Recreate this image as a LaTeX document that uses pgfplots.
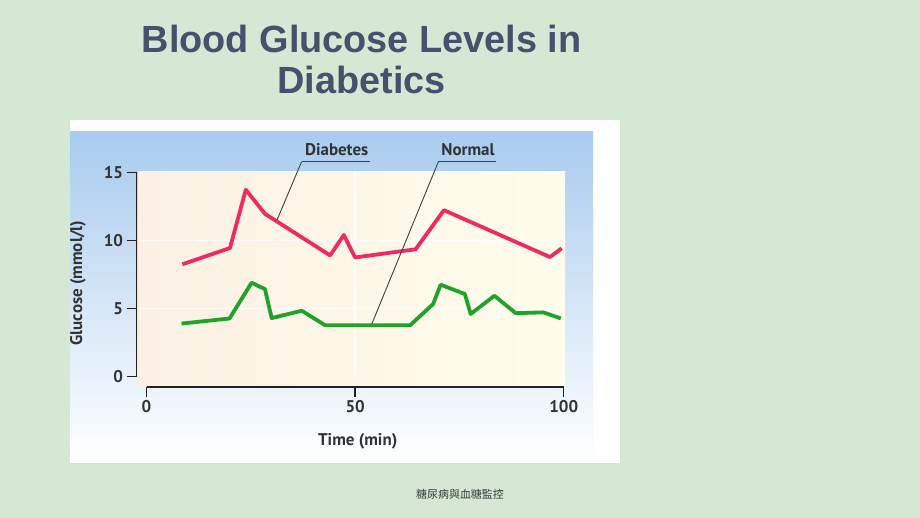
\documentclass[border=0pt]{standalone}
\usepackage{fontspec}
\setmainfont{Liberation Sans}
\newfontfamily\chartfont{PT Sans}
\newfontfamily\cjk{Noto Sans CJK TC}
\usepackage{pgfplots}
\pgfplotsset{compat=1.18}
\definecolor{slidebg}{HTML}{D5E8D4}
\definecolor{imgblue}{HTML}{A8CBEE}
\definecolor{creamL}{HTML}{FBF0E3}
\definecolor{creamR}{HTML}{FFFDEB}
\definecolor{diab}{HTML}{EF2C62}
\definecolor{norm}{HTML}{1FA32A}
\definecolor{axiscol}{HTML}{222222}
\definecolor{labelcol}{HTML}{333333}
\definecolor{titlecol}{HTML}{45526E}
\definecolor{footcol}{HTML}{3A3A3A}
\newcommand\cf{\chartfont\bfseries\fontsize{17}{17}\selectfont}
\begin{document}
\begin{tikzpicture}[x=1bp,y=1bp]
\fill[slidebg] (0,0) rectangle (920,518);
% chart picture frame
\fill[white] (70,55) rectangle (620,398);
\shade[top color=imgblue, bottom color=white] (70,55) rectangle (593,386);
\shade[left color=creamL, right color=creamR] (138,131) rectangle (565,346);
% title
\node[anchor=base, font=\bfseries\fontsize{38}{38}\selectfont, text=titlecol] at (361.7,465.7) {Blood Glucose Levels in};
\node[anchor=base, font=\bfseries\fontsize{38}{38}\selectfont, text=titlecol] at (361.7,424.7) {Diabetics};
% footer
\node[font=\cjk\fontsize{11}{11}\selectfont, text=footcol] at (460,24) {糖尿病與血糖監控};
\begin{axis}[
  at={(146.5bp,141.3bp)}, anchor=south west,
  scale only axis, width=417.2bp, height=204.4bp,
  xmin=0, xmax=100, ymin=0, ymax=15,
  axis x line*=bottom, axis y line*=left,
  axis x line shift=10bp, axis y line shift=10bp,
  xtick={0,50,100}, ytick={0,5,10,15},
  tick align=outside, major tick length=10bp,
  every tick/.style={draw=axiscol, line width=1.5bp},
  axis line style={draw=axiscol, line width=1.9bp, -},
  tick label style={font=\cf, text=labelcol},
  /pgf/number format/assume math mode=true,
  clip=false,
]
\draw[white, line width=1.5bp, opacity=0.7] (axis cs:-2,5) -- (axis cs:100,5);
\draw[white, line width=1.5bp, opacity=0.7] (axis cs:-2,10) -- (axis cs:100,10);
\draw[white, line width=1.5bp, opacity=0.7] (axis cs:50,0) -- (axis cs:50,15);
\addplot[diab, line width=3.8bp, line join=round] coordinates {
 (8.6,8.25) (20.0,9.44) (23.8,13.72) (28.4,11.95) (44.0,8.9) (47.3,10.4)
 (50.0,8.75) (64.5,9.35) (71.3,12.22) (96.7,8.78) (99.5,9.42)
};
\addplot[norm, line width=3.8bp, line join=round] coordinates {
 (8.4,3.9) (19.9,4.27) (25.2,6.9) (28.4,6.42) (30.0,4.3) (37.2,4.84)
 (42.8,3.78) (63.2,3.78) (68.7,5.33) (70.5,6.75) (76.3,6.07) (77.7,4.6)
 (83.4,5.94) (88.5,4.66) (95.1,4.72) (99.3,4.28)
};
\end{axis}
% annotations
\draw[gray!50!black, line width=0.9bp] (301.6,356.3) -- (370,356.3);
\draw[gray!50!black, line width=0.9bp] (301.6,356.3) -- (277,298);
\draw[gray!50!black, line width=0.9bp] (438.4,356.3) -- (496.3,356.3);
\draw[gray!50!black, line width=0.9bp] (438.4,356.3) -- (371.8,194);
\node[font=\cf, text=labelcol] at (336.7,368.5) {Diabetes};
\node[font=\cf, text=labelcol] at (468,368.5) {Normal};
\node[font=\cf, text=labelcol] at (357.7,76.3) {Time (min)};
\begin{scope}
\clip (70,55) rectangle (620,398);
\node[rotate=90, font=\cf, text=labelcol] at (78,235) {Glucose (mmol/l)};
\end{scope}
\end{tikzpicture}
\end{document}
